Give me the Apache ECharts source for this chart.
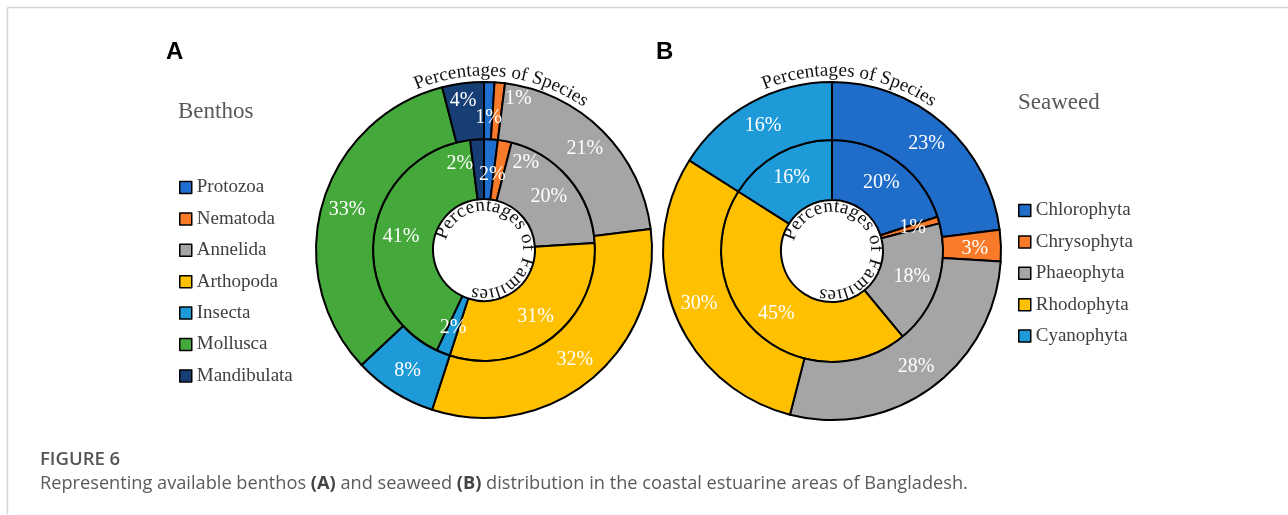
<!DOCTYPE html>
<html>
<head>
<meta charset="utf-8">
<script src="https://cdn.jsdelivr.net/npm/echarts@6/dist/echarts.min.js"></script>
<style>
html,body{margin:0;padding:0;background:#fff;}
#chart{width:1288px;height:515px;}
</style>
</head>
<body>
<div id="chart"></div>
<script>
// ---- data ----
const benthosNames = ['Protozoa','Nematoda','Annelida','Arthopoda','Insecta','Mollusca','Mandibulata'];
const benthosSpecies = [1, 1, 21, 32, 8, 33, 4];
const benthosFamilies = [2, 2, 20, 31, 2, 41, 2];
const seaweedNames = ['Chlorophyta','Chrysophyta','Phaeophyta','Rhodophyta','Cyanophyta'];
const seaweedSpecies = [23, 3, 28, 30, 16];
const seaweedFamilies = [20, 1, 18, 45, 16];

// ---- styles ----
const benthosColors = ['#1f6fd0','#f97a28','#a5a5a5','#ffc000','#1e9ad8','#44a83a','#163e75'];
const seaweedColors = ['#1f6cc9','#f97a28','#a5a5a5','#ffc000','#1e9ad8'];
const SERIF = '"Liberation Serif","Times New Roman",serif';
const A = {cx: 484, cy: 250, r0: 51, r1: 111, r2: 168};
const B = {cx: 832, cy: 251, r0: 51, r1: 111, r2: 169};
// label nudges for thin slices (pixels)
const nudgeAOuter = {Protozoa: [0, 10], Nematoda: [21, -9], Mandibulata: [-3, -8]};
const nudgeAInner = {Protozoa: [3, 9], Nematoda: [26, -5], Mandibulata: [-19, -2]};
const nudgeBOuter = {Chrysophyta: [0, 2]};
const nudgeBInner = {};

function items(names, vals, colors) {
  return names.map((n, i) => ({name: n, value: vals[i], itemStyle: {color: colors[i]}}));
}
function pieSeries(geo, inner, names, vals, colors, nudge) {
  return {
    type: 'pie',
    center: [geo.cx, geo.cy],
    radius: inner ? [geo.r0, geo.r1] : [geo.r1, geo.r2],
    startAngle: 90,
    clockwise: true,
    avoidLabelOverlap: false,
    silent: true,
    data: items(names, vals, colors),
    itemStyle: {borderColor: '#000', borderWidth: 2},
    label: {show: true, position: 'inside', formatter: '{c}%', color: '#fff',
            fontFamily: SERIF, fontSize: 20},
    labelLine: {show: false},
    labelLayout: function (p) {
      const o = nudge[names[p.dataIndex]];
      return o ? {dx: o[0], dy: o[1]} : {};
    }
  };
}

// curved text helper
const ctx = document.createElement('canvas').getContext('2d');
function arcText(text, cx, cy, rBase, angleDeg, fontSize, anchor) {
  const font = fontSize + 'px ' + SERIF;
  ctx.font = font;
  const chars = Array.from(text);
  const widths = chars.map(c => ctx.measureText(c).width);
  const total = widths.reduce((a, b) => a + b, 0);
  let start = angleDeg * Math.PI / 180;
  if (anchor === 'center') start -= total / (2 * rBase);
  const rc = rBase + fontSize * 0.33;
  const els = [];
  let cum = 0;
  chars.forEach((c, i) => {
    const s = cum + widths[i] / 2;
    cum += widths[i];
    if (c === ' ') return;
    const th = start + s / rBase;
    els.push({
      type: 'text', silent: true,
      x: cx + rc * Math.sin(th), y: cy - rc * Math.cos(th), rotation: -th,
      style: {text: c, font: font, fill: '#111', align: 'center', verticalAlign: 'middle',
              textAlign: 'center', textVerticalAlign: 'middle'}
    });
  });
  return els;
}
function plainText(txt, x, y, font, fill, extra) {
  return {type: 'text', silent: true, x: x, y: y,
    style: Object.assign({text: txt, font: font, fill: fill, align: 'left', verticalAlign: 'middle',
      textAlign: 'left', textVerticalAlign: 'middle'}, extra || {})};
}

const graphics = [
  {type: 'line', silent: true, shape: {x1: 7.5, y1: 7.5, x2: 1288, y2: 7.5}, style: {stroke: '#d4d4d4', lineWidth: 1.5}},
  {type: 'line', silent: true, shape: {x1: 7.5, y1: 7.5, x2: 7.5, y2: 514}, style: {stroke: '#d4d4d4', lineWidth: 1.5}},
  plainText('A', 166, 52, 'bold 24px "Liberation Sans",Arial,sans-serif', '#000'),
  plainText('B', 656, 52, 'bold 24px "Liberation Sans",Arial,sans-serif', '#000'),
  plainText('Benthos', 178, 112, '23px ' + SERIF, '#595959'),
  plainText('Seaweed', 1018, 103, '23px ' + SERIF, '#595959'),
  plainText('FIGURE 6', 40, 460, '600 18.5px "Open Sans",sans-serif', '#555'),
  plainText('Representing available benthos {b|(A)} and seaweed {b|(B)} distribution in the coastal estuarine areas of Bangladesh.',
    40, 484, '18.2px "Open Sans",sans-serif', '#5a5a5a',
    {rich: {b: {fontWeight: 'bold', fontFamily: '"Open Sans",sans-serif', fontSize: 18.2, fill: '#444'}}})
].concat(
  arcText('Percentages of Species', A.cx, A.cy, 173, 6, 19, 'center'),
  arcText('Percentages of Species', B.cx, B.cy, 174, 6, 19, 'center'),
  arcText('Percentages of Families', A.cx, A.cy, 38, -76, 19, 'start'),
  arcText('Percentages of Families', B.cx, B.cy, 38, -76, 19, 'start')
);

const legendCommon = {
  orient: 'vertical', icon: 'rect', itemWidth: 12, itemHeight: 12, itemGap: 12.4, itemTextGap: 3,
  padding: 0,
  itemStyle: {borderColor: '#000', borderWidth: 1.5},
  selectedMode: false,
  textStyle: {fontFamily: SERIF, fontSize: 19, color: '#404040', lineHeight: 19}
};

const option = {
  animation: false,
  backgroundColor: '#fff',
  legend: [
    Object.assign({}, legendCommon, {data: benthosNames, left: 179, top: 178}),
    Object.assign({}, legendCommon, {data: seaweedNames, left: 1018, top: 201})
  ],
  series: [
    pieSeries(A, true, benthosNames, benthosFamilies, benthosColors, nudgeAInner),
    pieSeries(A, false, benthosNames, benthosSpecies, benthosColors, nudgeAOuter),
    pieSeries(B, true, seaweedNames, seaweedFamilies, seaweedColors, nudgeBInner),
    pieSeries(B, false, seaweedNames, seaweedSpecies, seaweedColors, nudgeBOuter)
  ],
  graphic: graphics
};

const chart = echarts.init(document.getElementById('chart'), null, {renderer: 'canvas'});
chart.setOption(option);
</script>
</body>
</html>
